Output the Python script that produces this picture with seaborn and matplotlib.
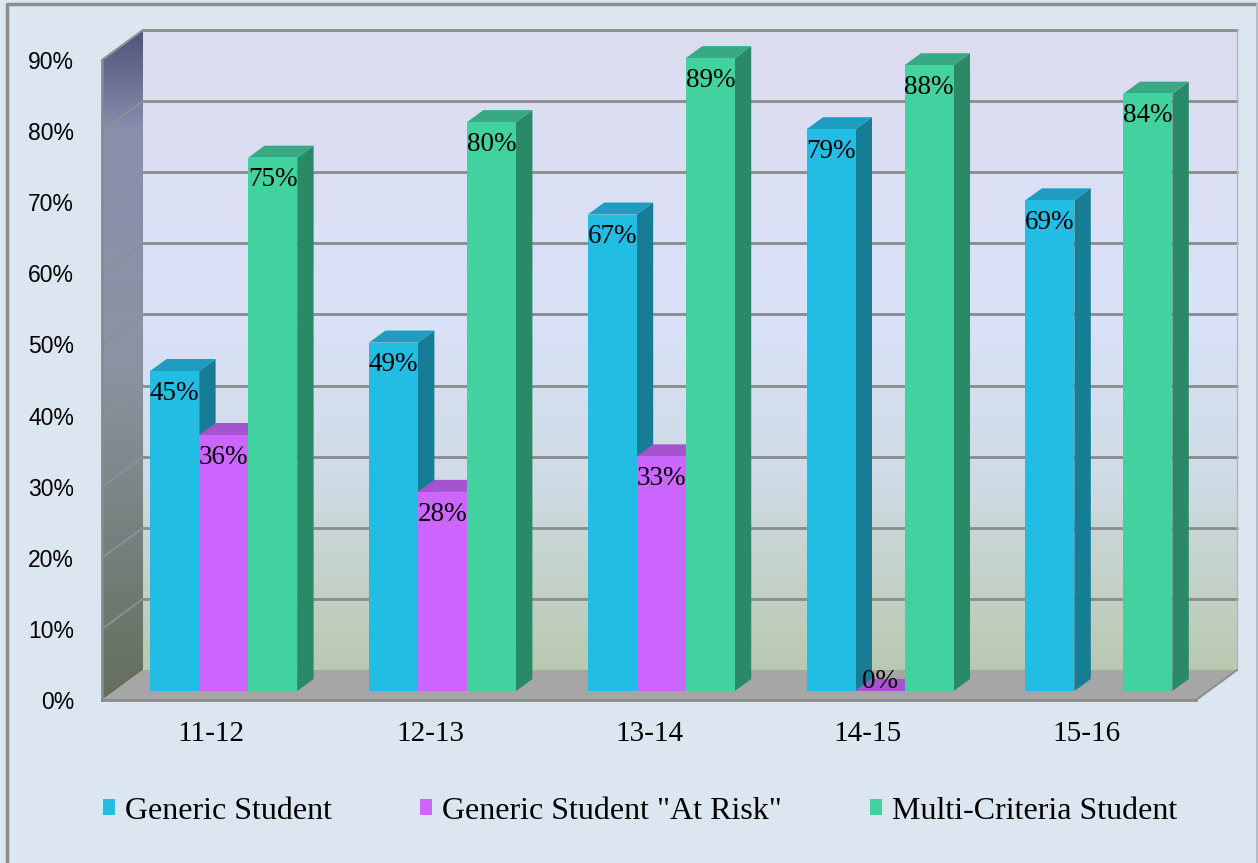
import numpy as np
import pandas as pd
import matplotlib
matplotlib.use("Agg")
import matplotlib.pyplot as plt
import seaborn as sns
from matplotlib.colors import LinearSegmentedColormap
from matplotlib.patches import Polygon, Patch
from matplotlib.ticker import PercentFormatter

# -----------------------------
# Data
# -----------------------------
years = ["11-12", "12-13", "13-14", "14-15", "15-16"]
generic = [0.45, 0.49, 0.67, 0.79, 0.69]
at_risk = [0.36, 0.28, 0.33, 0.00, np.nan]   # no value for 15-16
multi = [0.75, 0.80, 0.89, 0.88, 0.84]
series = ["Generic Student", 'Generic Student "At Risk"', "Multi-Criteria Student"]

colors = ["#22bde3", "#cc66ff", "#42d2a0"]
side_colors = ["#177c95", "#9a4ac2", "#2a8a68"]
top_colors = ["#1f9dc1", "#a653cf", "#37aa84"]

rows = []
for s, vals in zip(series, [generic, at_risk, multi]):
    for y, v in zip(years, vals):
        rows.append({"Year": y, "Series": s, "Value": v})
df = pd.DataFrame(rows).dropna()

sns.set_theme(style="white")
plt.rcParams['font.family'] = ['Liberation Serif', 'DejaVu Serif']
plt.rcParams['text.color'] = 'black'

# -----------------------------
# Layout (pixels)
# -----------------------------
W, H = 1258, 863
X0, X1 = 102, 1196      # front plane, left / right
Y0, Y1 = 700, 60        # front plane, 0% / 90%
DX, DY = 41, 30         # depth of the 3D box
FRONT = 0.3             # bar front face position in the depth
BDEPTH = 0.4            # bar depth
YMAX = 0.9
GRID = "#8a8a8a"


def px_rect(x0, yb, x1, yt):
    return [x0 / W, 1 - yb / H, (x1 - x0) / W, (yb - yt) / H]


fig = plt.figure(figsize=(W / 100, H / 100), dpi=100, facecolor="#dce6f1")

# back wall
ax_back = fig.add_axes(px_rect(X0 + DX, Y0 - DY, X1 + DX, Y1 - DY), zorder=0)
wall_cmap = LinearSegmentedColormap.from_list(
    "wall", [(0, "#dddcef"), (0.45, "#d9e2f8"), (0.7, "#cfdbe5"), (1, "#b9c9b0")])
ax_back.imshow(np.linspace(0, 1, 256).reshape(-1, 1), cmap=wall_cmap, aspect="auto",
               extent=(-0.5, 4.5, 0, YMAX), origin="upper")
ax_back.set_xlim(-0.5, 4.5)
ax_back.set_ylim(0, YMAX)
for v in np.arange(0.1, 0.95, 0.1):
    ax_back.axhline(v, color=GRID, lw=2, clip_on=False)
ax_back.set_xticks([])
ax_back.set_yticks([])
for sp in ["left", "top", "bottom"]:
    ax_back.spines[sp].set_visible(False)
ax_back.spines["right"].set_color("#b0b4c0")
ax_back.spines["right"].set_linewidth(1)

# floor and side wall, drawn in pixel space
deco = fig.add_axes([0, 0, 1, 1], zorder=1)
deco.patch.set_alpha(0)
floor = Polygon([(X0, Y0), (X1, Y0), (X1 + DX, Y0 - DY), (X0 + DX, Y0 - DY)],
                closed=True, facecolor="#a6a6a6", edgecolor="none")
deco.add_patch(floor)
side = Polygon([(X0, Y0), (X0 + DX, Y0 - DY), (X0 + DX, Y1 - DY), (X0, Y1)],
               closed=True, facecolor="none", edgecolor="none")
deco.add_patch(side)
side_cmap = LinearSegmentedColormap.from_list(
    "side", [(0, "#4e5378"), (0.15, "#8a8fae"), (0.5, "#8c93a2"), (1, "#646e5c")])
im = deco.imshow(np.linspace(0, 1, 256).reshape(-1, 1), cmap=side_cmap, aspect="auto",
                 extent=(X0, X0 + DX, Y0, Y1 - DY), origin="upper")
im.set_clip_path(side)
for v in np.arange(0.1, 0.95, 0.1):
    yf = Y0 - v / YMAX * (Y0 - Y1)
    deco.plot([X0, X0 + DX], [yf, yf - DY], color="#8d8f98", lw=1.5)
deco.plot([X1, X1 + DX], [Y0, Y0 - DY], color="#8d8d8d", lw=1.5)
# outer frame
deco.plot([6.5, 6.5, W], [H, 4.5, 4.5], color="#8c8c8c", lw=2.5)
deco.plot([W - 1, W - 1], [4.5, H], color="#b8bcc6", lw=1.5)
deco.set_xlim(0, W)
deco.set_ylim(H, 0)
deco.axis("off")

# front plane: axis lines, ticks, labels
ax = fig.add_axes(px_rect(X0, Y0, X1, Y1), zorder=2)
ax.patch.set_alpha(0)
ax.set_xlim(-0.5, 4.5)
ax.set_ylim(0, YMAX)
ax.set_yticks(np.arange(0, 0.95, 0.1))
ax.yaxis.set_major_formatter(PercentFormatter(1.0, decimals=0))
ax.set_xticks(np.arange(-0.5, 5, 1))
ax.set_xticklabels([])
ax.set_xticks(range(len(years)), minor=True)
ax.set_xticklabels(years, minor=True, fontsize=21)
ax.tick_params(axis="x", which="major", length=9, width=2, color=GRID, direction="out")
ax.tick_params(axis="x", which="minor", length=0, pad=15, labelcolor="black")
ax.tick_params(axis="y", length=7, width=2, color=GRID, pad=13, direction="out",
               labelcolor="black")
for lab in ax.get_yticklabels():
    lab.set_fontfamily(["Liberation Sans", "DejaVu Sans"])
    lab.set_fontsize(16.5)
for sp in ["top", "right"]:
    ax.spines[sp].set_visible(False)
for sp in ["left", "bottom"]:
    ax.spines[sp].set_color(GRID)
    ax.spines[sp].set_linewidth(2)

# bars
ax_bar = fig.add_axes(px_rect(X0 + FRONT * DX, Y0 - FRONT * DY,
                              X1 + FRONT * DX, Y1 - FRONT * DY), zorder=3)
sns.barplot(data=df, x="Year", y="Value", hue="Series", order=years, hue_order=series,
            palette=colors, saturation=1, width=0.672, legend=False,
            edgecolor="none", linewidth=0, ax=ax_bar)
ax_bar.set_xlim(-0.5, 4.5)
ax_bar.set_ylim(0, YMAX)
ax_bar.axis("off")

ddx = BDEPTH * DX / ((X1 - X0) / 5)
ddy = BDEPTH * DY / ((Y0 - Y1) / YMAX)

bars = []
for i, cont in enumerate(ax_bar.containers):
    for b in cont:
        bars.append((b.get_x(), i, b))
bars.sort(key=lambda t: t[0])

for k, (x, i, b) in enumerate(bars):
    w, h = b.get_width(), b.get_height()
    z = 2 + 0.01 * k
    b.set_zorder(z)
    ax_bar.add_patch(Polygon([(x + w, 0), (x + w + ddx, ddy), (x + w + ddx, h + ddy), (x + w, h)],
                             closed=True, facecolor=side_colors[i], edgecolor="none",
                             zorder=z - 0.005, clip_on=False))
    ax_bar.add_patch(Polygon([(x, h), (x + w, h), (x + w + ddx, h + ddy), (x + ddx, h + ddy)],
                             closed=True, facecolor=top_colors[i], edgecolor="none",
                             zorder=z - 0.004, clip_on=False))
    ax_bar.annotate(f"{h * 100:.0f}%", xy=(x + w / 2, h),
                    xytext=(0, -16 if h > 0 else 7), textcoords="offset points",
                    ha="center", va="center", fontsize=19.5, color="black", zorder=10)

# legend
handles = [Patch(facecolor=c, edgecolor="none", label=s) for c, s in zip(colors, series)]
fig.legend(handles=handles, loc="center", bbox_to_anchor=(0.509, 1 - 811 / H), ncol=3,
           frameon=False, fontsize=23, handlelength=0.37, handleheight=0.37,
           handletextpad=0.31, columnspacing=2.77, labelcolor="black")

fig.savefig("out.png", dpi=100, facecolor=fig.get_facecolor())
